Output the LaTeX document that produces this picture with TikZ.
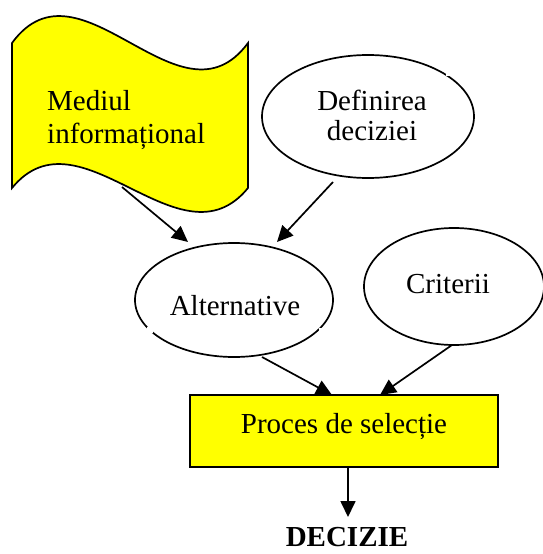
\documentclass[tikz,border=0pt]{standalone}
\usepackage{fontspec}
\setmainfont{Liberation Serif}
\usetikzlibrary{arrows.meta,shapes.geometric}
\definecolor{flagyellow}{RGB}{255,255,0}
\tikzset{
  ell/.style={draw=black, line width=1.7pt, ellipse, inner sep=0pt, fill=white},
  txt/.style={font=\fontsize{29}{33}\selectfont, inner sep=0pt, anchor=base},
  conn/.style={line width=1.7pt, -{Triangle[length=16pt,width=15pt]}},
  gap/.style={fill=white, draw=none}
}
\begin{document}
\begin{tikzpicture}[x=1pt,y=-1pt]
\useasboundingbox (0,0) rectangle (542,554);
% wave flag
\draw[line width=1.7pt, fill=flagyellow]
  (12,43) .. controls (80,-50) and (180,135) .. (248,43)
  -- (248,188) .. controls (180,271) and (80,105) .. (12,188) -- cycle;
\coordinate (flagout) at (122,187);
\node[txt, anchor=base west] (med1) at (47,110) {Mediul};
\node[txt, anchor=base west] (med2) at (47,143) {informațional};
% ellipses
\node[ell, minimum width=212pt, minimum height=123pt] (def) at (368,116.5) {};
\node[txt] (deft1) at (372,110) {Definirea};
\node[txt] (deft2) at (372,140) {deciziei};
\node[ell, minimum width=198pt, minimum height=114pt] (alt) at (234,300) {};
\node[txt] (altt) at (235,315) {Alternative};
\node[ell, minimum width=180pt, minimum height=117pt] (cri) at (454,286.5) {};
\node[txt] (crit) at (448,293) {Criterii};
% small gaps in outlines
\fill[gap] (446,69) rectangle (453,76);
\fill[gap] (147,327) rectangle (153,333);
\fill[gap] (319,328) rectangle (325,334);
% process box
\node[draw=black, line width=1.7pt, fill=flagyellow, minimum width=308pt, minimum height=72pt, inner sep=0pt] (proc) at (344,431) {};
\node[txt] (proct) at (344,433) {Proces de selecție};
% result
\node[txt, font=\fontsize{29}{33}\selectfont\bfseries] (dec) at (347,546) {DECIZIE};
\coordinate (dectop) at (348,517);
% connectors
\coordinate (altin1) at (188,242);
\coordinate (altin2) at (277,242);
\coordinate (defout) at (333,182);
\coordinate (altout) at (262,357);
\coordinate (criout) at (452,345);
\coordinate (procin1) at (332,395);
\coordinate (procin2) at (380,395);
\coordinate (procout) at (348,467);
\draw[conn] (flagout) -- (altin1);
\draw[conn] (defout) -- (altin2);
\draw[conn] (altout) -- (procin1);
\draw[conn] (criout) -- (procin2);
\draw[conn] (procout) -- (dectop);
\end{tikzpicture}
\end{document}
